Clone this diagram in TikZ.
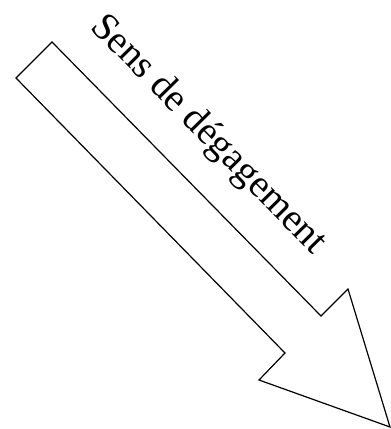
\documentclass[tikz,border=0pt]{standalone}
\usepackage{fontspec}
\setmainfont{Liberation Serif}
\begin{document}
\begin{tikzpicture}[x=1pt,y=-1pt,
  arrowshape/.style={draw=black, line width=1.2pt, line join=miter},
  label/.style={font=\fontsize{39}{40}\selectfont, inner sep=0pt}]
\useasboundingbox (0,0) rectangle (391,429);
\coordinate (tailtop) at (52,42);
\coordinate (tailbot) at (16,78);
\coordinate (notchup) at (321,316);
\coordinate (barbup) at (348,289);
\coordinate (tip) at (390,427);
\coordinate (barblo) at (259,380);
\coordinate (notchlo) at (285,353);
\draw[arrowshape] (tailtop) -- (notchup) -- (barbup) -- (tip) -- (barblo) -- (notchlo) -- (tailbot) -- cycle;
\node[label, rotate=-45.5] (txt) at (208,135) {Sens de dégagement};
\end{tikzpicture}
\end{document}
